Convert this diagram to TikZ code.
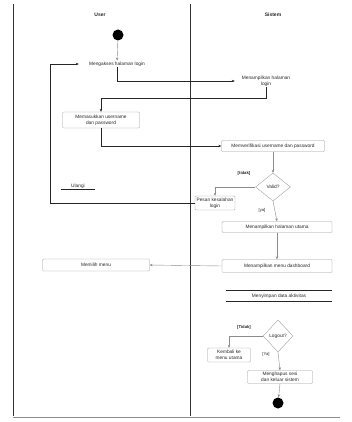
\documentclass[tikz,border=0pt]{standalone}
\usepackage{fontspec}
\setmainfont{Liberation Sans}
\usetikzlibrary{shapes.geometric,arrows.meta}
\begin{document}
\begin{tikzpicture}[x=1pt,y=-1pt,
  txt/.style={font=\fontsize{4.8}{5.6}\selectfont, text=black!85, inner sep=1pt, align=center},
  header/.style={txt, font=\bfseries\fontsize{5}{6}\selectfont},
  actbox/.style={txt, draw=black!40, line width=0.35pt, rounded corners=1pt, minimum height=11pt},
  barbox/.style={txt, minimum height=11pt},
  dec/.style={txt, diamond, aspect=1.25, draw=black!40, line width=0.35pt, inner sep=0.5pt},
  dot/.style={circle, fill=black, inner sep=0pt, minimum size=11pt},
  main/.style={line width=0.8pt, draw=black!85},
  faint/.style={line width=0.4pt, draw=black!45},
  tip/.style={-{Stealth[length=3pt,width=2.5pt]}},
  lane/.style={line width=1pt, draw=black!80}]
\useasboundingbox (0,0) rectangle (352,422);
% swimlanes
\draw[lane] (13,4) -- (13,416);
\draw[lane] (190,4) -- (190,416);
\draw[faint] (13,417) -- (340,417);
\node[header] (hU) at (100,15) {User};
\node[header] (hS) at (273,15) {Sistem};
% nodes
\node[dot] (start) at (118,35) {};
\node[txt, minimum width=76pt] (a1) at (117,64) {Mengakses halaman login};
\node[txt, minimum width=62pt] (a2) at (266,81) {Menampilkan halaman\\login};
\node[actbox, minimum width=77pt, minimum height=16pt] (a3) at (101,120) {Memasukkan username\\dan password};
\node[actbox, minimum width=103pt] (a4) at (273,146) {Memverifikasi username dan password};
\node[dec, minimum width=35pt, minimum height=28pt] (d1) at (273,187) {Valid?};
\node[txt, font=\bfseries\fontsize{4.2}{5}\selectfont] (g1) at (244,173) {[tidak]};
\node[txt, font=\fontsize{4.2}{5}\selectfont] (g2) at (262,210) {[ya]};
\node[actbox, minimum width=40pt, minimum height=14pt] (err) at (215,203) {Pesan kesalahan\\login};
\node[txt, minimum width=34pt] (lp) at (78,186) {Ulangi};
\draw[main] (lp.south west) -- (lp.south east);
\node[actbox, minimum width=110pt] (a5) at (277,227) {Menampilkan halaman utama};
\node[actbox, minimum width=110pt, minimum height=13pt] (a6) at (277,266) {Menampilkan menu dashboard};
\node[actbox, minimum width=107pt, minimum height=12pt] (a7) at (96,265) {Memilih menu};
\node[barbox, minimum width=105pt] (a8) at (279,296) {Menyimpan data aktivitas};
\draw[main] (a8.north west) -- (a8.north east);
\draw[main] (a8.south west) -- (a8.south east);
\node[dec, minimum width=30pt, minimum height=32pt] (d2) at (278,336) {Logout?};
\node[txt, font=\bfseries\fontsize{4.2}{5}\selectfont] (g3) at (244,327) {[Tidak]};
\node[txt, font=\fontsize{4.2}{5}\selectfont] (g4) at (266,354) {[Ya]};
\node[actbox, minimum width=43pt, minimum height=14pt] (b2) at (229,355) {Kembali ke\\menu utama};
\node[actbox, minimum width=65pt, minimum height=13pt] (a9) at (280,377) {Menghapus sesi\\dan keluar sistem};
\node[dot] (end) at (278,403) {};
% connectors
\coordinate (b1) at (101,98);
\coordinate (L) at (50,64);
\draw[faint,tip] (start) -- (a1);
\draw[main,tip] (a1.south) |- (a2.west);
\draw[main,tip] (a2.south) |- (b1) -- (a3.north);
\draw[main,tip] (a3.south) |- (a4.west);
\draw[faint,tip] (a4.south) -- (d1.north);
\draw[faint,tip] (d1.west) -| (err.north);
\draw[main,tip] (err.west) -| (L) -- (a1.west);
\draw[faint,tip] (d1.south) -- (a5.north);
\draw[faint,tip] (a5.south) -- (a6.north);
\draw[faint,tip] (a6.west) -- (a7.east);
\draw[faint,tip] (d2.west) -| (b2.north);
\draw[faint,tip] (d2.south) -- (a9.north);
\draw[faint,tip] (a9.south) -- (end);
\end{tikzpicture}
\end{document}
